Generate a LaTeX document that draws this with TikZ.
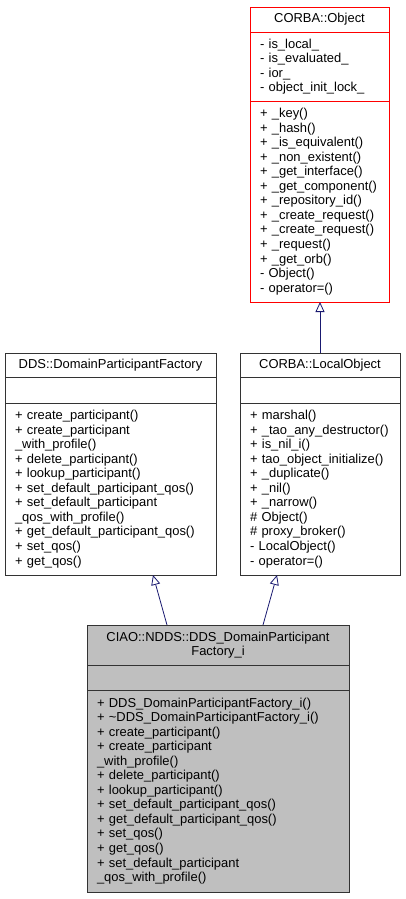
\documentclass[tikz,border=0pt]{standalone}
\usepackage{fontspec}
\setmainfont{Liberation Sans}
\usetikzlibrary{positioning,arrows.meta}
\definecolor{kante}{HTML}{191970}
\definecolor{hinterlegt}{HTML}{BFBFBF}
\begin{document}
\begin{tikzpicture}[x=1bp,y=-1bp,
    teil/.style 2 args={draw=black!80, line width=.8bp, outer sep=0pt,
      inner xsep=10bp, inner ysep=0pt, align=left, text width=#1,
      minimum height=#2, font=\fontsize{13}{14.6}\selectfont},
    kopf/.style 2 args={teil={#1}{#2}, align=center},
    vererbung/.style={draw=kante, line width=.8bp,
      -{Triangle[open, length=10bp, width=9bp, fill=white]}}
  ]
  \useasboundingbox (0,0) rectangle (405,899);
  % CORBA::Object
  \node[kopf={119bp}{25bp}, draw=red, anchor=north west] (obj) at (250,7) {CORBA::Object};
  \node[teil={119bp}{69bp}, draw=red, below=0pt of obj] (obj-attr)
    {- is\_local\_\\- is\_evaluated\_\\- ior\_\\- object\_init\_lock\_};
  \node[teil={119bp}{201bp}, draw=red, below=0pt of obj-attr] (obj-ops)
    {+ \_key()\\+ \_hash()\\+ \_is\_equivalent()\\+ \_non\_existent()\\
     + \_get\_interface()\\+ \_get\_component()\\+ \_repository\_id()\\
     + \_create\_request()\\+ \_create\_request()\\+ \_request()\\
     + \_get\_orb()\\- Object()\\- operator=()};
  % DDS::DomainParticipantFactory
  \node[kopf={191bp}{24bp}, anchor=north west] (dds) at (5,353) {DDS::DomainParticipantFactory};
  \node[teil={191bp}{26bp}, below=0pt of dds] (dds-attr) {};
  \node[teil={191bp}{172bp}, below=0pt of dds-attr] (dds-ops)
    {+ create\_participant()\\+ create\_participant\\\_with\_profile()\\
     + delete\_participant()\\+ lookup\_participant()\\
     + set\_default\_participant\_qos()\\+ set\_default\_participant\\
     \_qos\_with\_profile()\\+ get\_default\_participant\_qos()\\
     + set\_qos()\\+ get\_qos()};
  % CORBA::LocalObject
  \node[kopf={140bp}{24bp}, anchor=north west] (lokal) at (240,353) {CORBA::LocalObject};
  \node[teil={140bp}{26bp}, below=0pt of lokal] (lokal-attr) {};
  \node[teil={140bp}{172bp}, below=0pt of lokal-attr] (lokal-ops)
    {+ marshal()\\+ \_tao\_any\_destructor()\\+ is\_nil\_i()\\
     + tao\_object\_initialize()\\+ \_duplicate()\\+ \_nil()\\
     + \_narrow()\\\# Object()\\\# proxy\_broker()\\- LocalObject()\\
     - operator=()};
  % CIAO::NDDS::DDS_DomainParticipantFactory_i
  \node[kopf={242bp}{40bp}, fill=hinterlegt, anchor=north west] (ciao) at (87,625)
    {CIAO::NDDS::DDS\_DomainParticipant\\Factory\_i};
  \node[teil={242bp}{25bp}, fill=hinterlegt, below=0pt of ciao] (ciao-attr) {};
  \node[teil={242bp}{202bp}, fill=hinterlegt, below=0pt of ciao-attr] (ciao-ops)
    {+ DDS\_DomainParticipantFactory\_i()\\
     + \textasciitilde DDS\_DomainParticipantFactory\_i()\\
     + create\_participant()\\+ create\_participant\\\_with\_profile()\\
     + delete\_participant()\\+ lookup\_participant()\\
     + set\_default\_participant\_qos()\\+ get\_default\_participant\_qos()\\
     + set\_qos()\\+ get\_qos()\\+ set\_default\_participant\\
     \_qos\_with\_profile()};
  % Vererbung
  \draw[vererbung] (lokal.north) -- (lokal.north |- obj-ops.south);
  \draw[vererbung] ([xshift=-51bp]ciao.north) -- ([xshift=42.5bp]dds-ops.south);
  \draw[vererbung] ([xshift=45bp]ciao.north) -- ([xshift=-43bp]lokal-ops.south);
\end{tikzpicture}
\end{document}
